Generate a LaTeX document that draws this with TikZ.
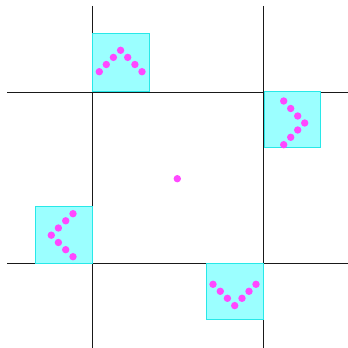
\documentclass[tikz,border=0pt]{standalone}
\begin{document}
\begin{tikzpicture}[x=1pt,y=1pt]
    \definecolor{mygrid}{RGB}{25,25,25}
    \definecolor{mybox}{RGB}{155,255,255}
    \definecolor{myedge}{RGB}{40,232,232}
    \definecolor{mydot}{RGB}{255,72,255}
    \tikzset{
        gridline/.style={mygrid, line width=0.9pt},
        box/.style={draw=myedge, fill=mybox, line width=1pt},
        dot/.style={fill=mydot}
    }
    \useasboundingbox (0,0) rectangle (348,348);

    % the two pairs of lines
    \draw[gridline] (92.3,342) -- (92.3,0);
    \draw[gridline] (263.5,342) -- (263.5,0);
    \draw[gridline] (7,256) -- (348,256);
    \draw[gridline] (7,85) -- (348,85);

    % top: chevron up
    \draw[box] (92,256) rectangle (149,314);
    \foreach \x/\y in {99.3/276.3, 106.3/283.5, 113.4/290.6, 120.6/297.7, 127.7/290.6, 134.9/283.5, 142/276.3}
        \fill[dot] (\x,\y) circle (3.7);

    % right: chevron pointing right
    \draw[box] (264,200) rectangle (320,256);
    \foreach \x/\y in {283.7/247, 290.7/239.5, 297.7/232, 304.7/225, 297.7/218, 290.7/210.7, 283.7/203.3}
        \fill[dot] (\x,\y) circle (3.7);

    % left: chevron pointing left
    \draw[box] (35.3,84.7) rectangle (92.3,141.3);
    \foreach \x/\y in {73/134.3, 65.7/127.2, 58.4/120, 51.3/112.8, 58.4/105.5, 65.7/98.3, 73/91.3}
        \fill[dot] (\x,\y) circle (3.7);

    % bottom: chevron down
    \draw[box] (206.7,28) rectangle (263.3,84.7);
    \foreach \x/\y in {213/63.7, 220.3/56.7, 227.4/49.7, 234.7/42.4, 242/49.7, 249/56.7, 256/63.7}
        \fill[dot] (\x,\y) circle (3.7);

    % centre
    \fill[dot] (177.3,169.3) circle (3.7);
\end{tikzpicture}
\end{document}
